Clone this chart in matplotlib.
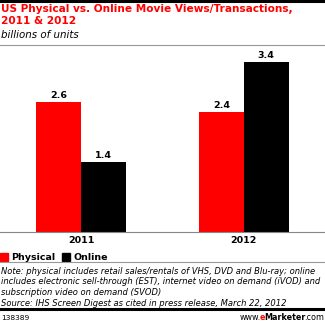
import matplotlib.pyplot as plt
from matplotlib.patches import Rectangle
from matplotlib.lines import Line2D

# data (billions of units)
years = ["2011", "2012"]
physical = [2.6, 2.4]
online = [1.4, 3.4]

W, H = 325, 327
fig = plt.figure(figsize=(W / 100, H / 100), dpi=100)
fig.patch.set_facecolor("white")


def fy(py):
    # pixel row from top -> figure fraction
    return 1 - py / H


def fx(px):
    return px / W


# frame lines
fig.add_artist(Line2D([0, 1], [fy(1), fy(1)], color="black", lw=2.2))
fig.add_artist(Line2D([0, 1], [fy(44.5), fy(44.5)], color="#999999", lw=0.8))
fig.add_artist(Line2D([0, 1], [fy(262), fy(262)], color="#999999", lw=0.8))
fig.add_artist(Line2D([0, 1], [fy(308.5), fy(308.5)], color="black", lw=2.2))

# header
fig.text(fx(1), fy(4.5), "US Physical vs. Online Movie Views/Transactions,\n2011 & 2012",
         color="#ff0000", fontsize=7.6, fontweight="bold", va="top", ha="left",
         linespacing=1.2)
fig.text(fx(1), fy(30), "billions of units", color="black", fontsize=7.4,
         style="italic", va="top", ha="left")

# chart area
ax = fig.add_axes([0, fy(232), 1, (232 - 50) / H])
x = range(len(years))
w = 0.276
b1 = ax.bar([i - w / 2 for i in x], physical, width=w, color="#ff0000", edgecolor="none")
b2 = ax.bar([i + w / 2 for i in x], online, width=w, color="black", edgecolor="none")
for bars, vals in ((b1, physical), (b2, online)):
    for r, v in zip(bars, vals):
        ax.text(r.get_x() + r.get_width() / 2, v + 0.05, f"{v:.1f}", ha="center",
                va="bottom", fontsize=6.8, fontweight="bold")
ax.set_xlim(-0.5, 1.5)
ax.set_ylim(0, 182 / 50)
ax.set_xticks(list(x))
ax.set_xticklabels(years, fontsize=6.8, fontweight="bold")
ax.tick_params(axis="x", length=0, pad=3)
ax.set_yticks([])
for s in ("top", "left", "right"):
    ax.spines[s].set_visible(False)
ax.spines["bottom"].set_color("#888888")
ax.spines["bottom"].set_linewidth(0.8)
ax.patch.set_alpha(0)

# legend
fig.add_artist(Rectangle((fx(0), fy(261)), fx(8), fy(253) - fy(261),
                         color="#ff0000", transform=fig.transFigure))
fig.text(fx(11), fy(257), "Physical", fontsize=6.8, fontweight="bold", va="center")
fig.add_artist(Rectangle((fx(62), fy(261)), fx(8), fy(253) - fy(261),
                         color="black", transform=fig.transFigure))
fig.text(fx(73), fy(257), "Online", fontsize=6.8, fontweight="bold", va="center")

# notes
note = ("Note: physical includes retail sales/rentals of VHS, DVD and Blu-ray; online\n"
        "includes electronic sell-through (EST), internet video on demand (iVOD) and\n"
        "subscription video on demand (SVOD)\n"
        "Source: IHS Screen Digest as cited in press release, March 22, 2012")
fig.text(fx(1), fy(266.5), note, fontsize=6.05, style="italic", va="top", ha="left",
         linespacing=1.25)

fig.text(fx(1), fy(318), "138389", fontsize=5.4, va="center", ha="left")

# footer url, laid out right to left so the red "e" sits in place
renderer = fig.canvas.get_renderer()
xr = 324
for part, color, weight in ((".com", "black", "normal"), ("Marketer", "black", "bold"),
                            ("e", "#ff0000", "bold"), ("www.", "black", "normal")):
    t = fig.text(fx(xr), fy(318), part, fontsize=5.8, color=color, fontweight=weight,
                 va="center", ha="right")
    xr -= t.get_window_extent(renderer).width - 1.2

fig.savefig("out.png", dpi=100)
